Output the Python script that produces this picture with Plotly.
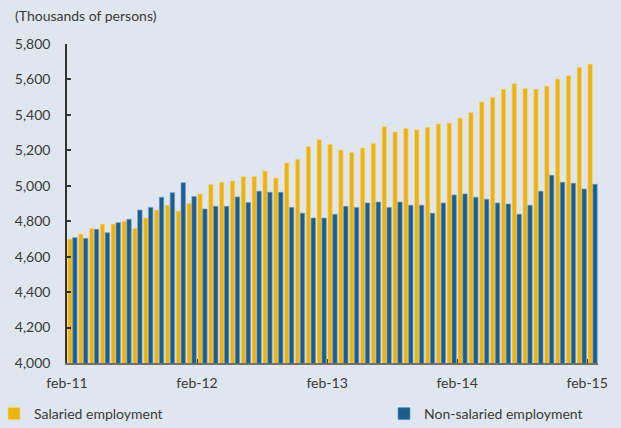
import plotly.graph_objects as go

months = ["feb-11","mar-11","apr-11","may-11","jun-11","jul-11","aug-11","sep-11","oct-11","nov-11","dec-11","jan-12",
          "feb-12","mar-12","apr-12","may-12","jun-12","jul-12","aug-12","sep-12","oct-12","nov-12","dec-12","jan-13",
          "feb-13","mar-13","apr-13","may-13","jun-13","jul-13","aug-13","sep-13","oct-13","nov-13","dec-13","jan-14",
          "feb-14","mar-14","apr-14","may-14","jun-14","jul-14","aug-14","sep-14","oct-14","nov-14","dec-14","jan-15",
          "feb-15"]

salaried = [4700, 4728, 4760, 4784, 4784, 4800, 4760, 4818, 4863, 4890, 4857, 4901,
            4954, 5008, 5020, 5027, 5051, 5051, 5083, 5044, 5129, 5149, 5221, 5260,
            5234, 5202, 5189, 5213, 5239, 5335, 5303, 5324, 5316, 5330, 5349, 5354,
            5382, 5414, 5473, 5499, 5544, 5576, 5550, 5544, 5563, 5603, 5621, 5667,
            5687]

non_salaried = [4707, 4702, 4754, 4735, 4792, 4811, 4863, 4878, 4935, 4961, 5017, 4939,
                4869, 4884, 4884, 4937, 4905, 4969, 4963, 4963, 4878, 4845, 4818, 4818,
                4839, 4884, 4878, 4903, 4908, 4878, 4908, 4890, 4890, 4845, 4903, 4948,
                4954, 4935, 4924, 4903, 4897, 4839, 4890, 4969, 5059, 5020, 5014, 4982,
                5008]

tick_positions = [0, 12, 24, 36, 48]
tick_labels = ["feb-11", "feb-12", "feb-13", "feb-14", "feb-15"]
y_ticks = [4000, 4200, 4400, 4600, 4800, 5000, 5200, 5400, 5600, 5800]

x_pos = [i + 0.5 for i in range(len(months))]

YELLOW = "#ECB210"
BLUE = "#1B5E8E"
BG = "#DFE6F0"
TXT = "#3a3a3a"
FONT = "Lato"

fig = go.Figure()
fig.add_trace(go.Bar(x=x_pos, y=salaried, name="Salaried employment",
                     marker=dict(color=YELLOW, line=dict(color="#F4D57F", width=0.7)),
                     legend="legend", showlegend=True, customdata=months))
fig.add_trace(go.Bar(x=x_pos, y=non_salaried, name="Non-salaried employment",
                     marker=dict(color=BLUE, line=dict(color="#6E98BA", width=0.7)),
                     legend="legend2", showlegend=True, customdata=months))

L, R, T, B = 67, 23, 44, 65
W, H = 621, 428
pw = W - L - R
ph = H - T - B

fig.update_layout(
    width=W, height=H,
    margin=dict(l=L, r=R, t=T, b=B, autoexpand=False),
    paper_bgcolor=BG, plot_bgcolor=BG,
    showlegend=True,
    barmode="group", bargap=0.1, bargroupgap=0.1,
    font=dict(family=FONT, size=14, color=TXT),
    legend=dict(orientation="h", x=(-6 - L) / pw, xanchor="left",
                y=-(414 - (T + ph)) / ph, yanchor="middle",
                bgcolor="rgba(0,0,0,0)", font=dict(size=14, color=TXT, family=FONT)),
    legend2=dict(orientation="h", x=(384 - L) / pw, xanchor="left",
                 y=-(414 - (T + ph)) / ph, yanchor="middle",
                 bgcolor="rgba(0,0,0,0)", font=dict(size=14, color=TXT, family=FONT)),
    annotations=[dict(text="(Thousands of persons)", xref="paper", yref="paper",
                      x=(13 - L) / pw, y=1 + (T - 15) / ph, xanchor="left", yanchor="middle",
                      showarrow=False, font=dict(size=14, color=TXT, family=FONT))],
)

fig.update_xaxes(range=[0, len(months)], tickvals=tick_positions, ticktext=tick_labels,
                 showgrid=False, zeroline=False, showline=True, linecolor="#707070", linewidth=2,
                 ticks="inside", ticklen=4, tickcolor="#404040", tickwidth=1,
                 ticklabelstandoff=6, tickfont=dict(size=14, color=TXT, family=FONT))
fig.update_yaxes(range=[4000, 5800], tickvals=y_ticks, tickformat=",d",
                 showgrid=False, zeroline=False, showline=True, linecolor="#333333", linewidth=1.5,
                 ticks="inside", ticklen=4, tickcolor="#333333", tickwidth=1.5,
                 ticklabelstandoff=12, tickfont=dict(size=14, color=TXT, family=FONT))

fig.write_html("out.html", config={"displayModeBar": False},
               post_script="document.body.style.margin='0';document.body.style.overflow='hidden';document.body.style.background='" + BG + "';")
